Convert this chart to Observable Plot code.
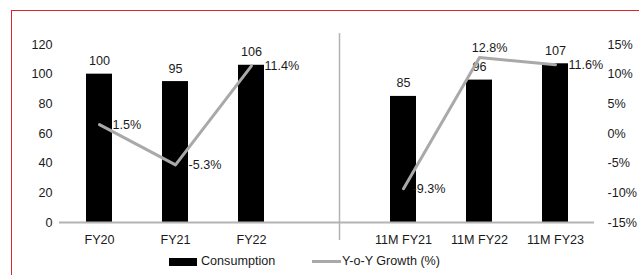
<!DOCTYPE html>
<html>
<head>
<meta charset="utf-8">
<script src="https://cdn.jsdelivr.net/npm/d3@7"></script>
<script src="https://cdn.jsdelivr.net/npm/@observablehq/plot@0.6"></script>
<style>
  html, body { margin: 0; padding: 0; background: #fff; }
  body { width: 639px; height: 275px; overflow: hidden; position: relative; font-family: "Liberation Sans", Arial, sans-serif; }
  #frame { position: absolute; left: 11px; top: 10px; width: 800px; height: 400px; border-left: 1px solid #e0232b; border-top: 1px solid #e0232b; pointer-events: none; }
  #chart { position: absolute; left: 0; top: 0; }
  .lg { position: absolute; font-size: 12.6px; color: #1a1a1a; line-height: 14px; }
  .sw { position: absolute; }
</style>
</head>
<body>
<div id="chart"></div>
<div id="frame"></div>
<div class="sw" style="left:169px;top:258px;width:28px;height:8px;background:#000"></div>
<div class="lg" style="left:201px;top:254px">Consumption</div>
<div class="sw" style="left:312px;top:260px;width:29px;height:3px;background:#a9a9a9"></div>
<div class="lg" style="left:342px;top:254px">Y-o-Y Growth (%)</div>
<script>
const periods = ["FY20", "FY21", "FY22", "11M FY21", "11M FY22", "11M FY23"];
const segment = ["FY", "FY", "FY", "11M", "11M", "11M"];
const consumption = [100, 95, 106, 85, 96, 107];
const growth = [1.5, -5.3, 11.4, -9.3, 12.8, 11.6];
const leftTicks = [0, 20, 40, 60, 80, 100, 120];
const rightTicks = [-15, -10, -5, 0, 5, 10, 15];

const GAP = "gap";
const xDomain = [...periods.slice(0, 3), GAP, ...periods.slice(3)];
// map growth (%) onto the left scale: -15% -> 0, 15% -> 120
const toLeft = g => (g + 15) * 4;

const data = periods.map((p, i) => ({
  period: p, seg: segment[i], value: consumption[i], growth: growth[i],
  label: (growth[i]).toFixed(1) + "%"
}));

const font = "Liberation Sans, Arial, sans-serif";
const fs = 12.6;

const chart = Plot.plot({
  width: 639,
  height: 250,
  marginLeft: 59,
  marginRight: 45,
  marginTop: 44,
  marginBottom: 28,
  style: { fontFamily: font, fontSize: fs + "px", color: "#1a1a1a", background: "transparent", overflow: "visible" },
  x: { domain: xDomain, paddingInner: 0.66, paddingOuter: 0.33 },
  y: { domain: [0, 120] },
  marks: [
    Plot.barY(data, { x: "period", y: "value", fill: "#000" }),
    Plot.ruleY([0], { stroke: "#b3b3b3", strokeWidth: 2 }),
    Plot.ruleX([GAP], { stroke: "#b3b3b3", strokeWidth: 1.5, dx: 12, insetTop: -11, insetBottom: -18 }),
    Plot.text(data, { x: "period", y: "value", text: d => String(d.value), dy: -13, fontSize: fs, fill: "#1a1a1a" }),
    Plot.line(data, { x: "period", y: d => toLeft(d.growth), z: "seg", stroke: "#a9a9a9", strokeWidth: 3 }),
    Plot.text(data.filter((d, i) => i !== 4 && i !== 3), { x: "period", y: d => toLeft(d.growth), text: "label", dx: 13, textAnchor: "start", fontSize: fs, fill: "#1a1a1a" }),
    Plot.text(data.filter((d, i) => i === 3), { x: "period", y: d => toLeft(d.growth), text: "label", dx: 9, textAnchor: "start", fontSize: fs, fill: "#1a1a1a" }),
    Plot.text(data.filter((d, i) => i === 4), { x: "period", y: d => toLeft(d.growth), text: "label", dx: 10, dy: -10, textAnchor: "middle", fontSize: fs, fill: "#1a1a1a" }),
    Plot.axisX({ tickSize: 0, tickPadding: 13, tickFormat: d => d === GAP ? "" : d, fontSize: fs, label: null }),
    Plot.axisY(leftTicks, { anchor: "left", tickSize: 0, tickPadding: 7, fontSize: fs, label: null }),
    Plot.axisY(rightTicks.map(toLeft), { anchor: "right", tickSize: 0, tickPadding: 13, fontSize: fs, label: null, tickFormat: v => (v / 4 - 15) + "%" })
  ]
});
document.getElementById("chart").appendChild(chart);
</script>
</body>
</html>
